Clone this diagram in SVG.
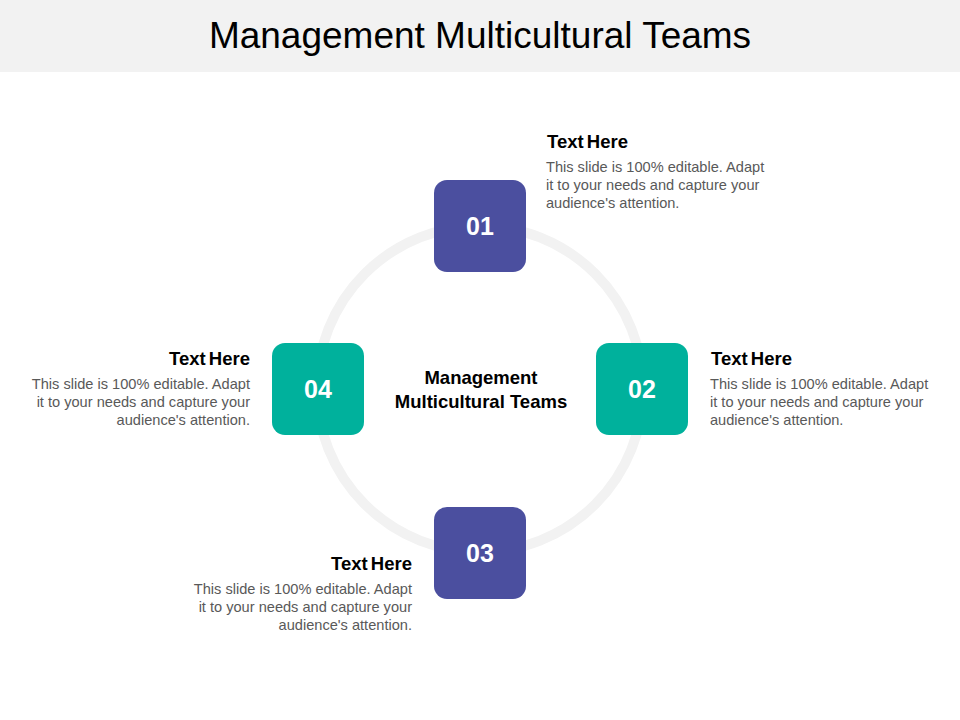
<svg xmlns="http://www.w3.org/2000/svg" width="960" height="720" viewBox="0 0 960 720">
<style>
.title{font-family:"Liberation Sans",Arial,sans-serif;font-size:37px;fill:#000;text-anchor:middle}
.num{font-family:"Liberation Sans",Arial,sans-serif;font-size:25px;font-weight:bold;fill:#fff;text-anchor:middle}
.head{font-family:"Liberation Sans",Arial,sans-serif;font-size:18.5px;font-weight:bold;fill:#000;word-spacing:-2px}
.body{font-family:"Liberation Sans",Arial,sans-serif;font-size:14.6px;fill:#595959}
.center{font-family:"Liberation Sans",Arial,sans-serif;font-size:18.5px;font-weight:bold;fill:#000;text-anchor:middle}
.purple{fill:#4b4f9f}
.teal{fill:#00b19c}
.r{text-anchor:end}
</style>
<rect x="0" y="0" width="960" height="720" fill="#fff"/>
<g id="title-bar">
<rect x="0" y="0" width="960" height="72" fill="#f2f2f2"/>
<text class="title" x="480" y="48">Management Multicultural Teams</text>
</g>
<g id="connectors">
<circle cx="480" cy="389" r="163" fill="none" stroke="#f2f2f2" stroke-width="10"/>
</g>
<g id="center">
<text class="center" x="481" y="384">Management</text>
<text class="center" x="481" y="408">Multicultural Teams</text>
</g>
<g id="node-01">
<rect class="purple" x="434" y="180" width="92" height="92" rx="13"/>
<text class="num" x="480" y="235">01</text>
<text class="head" x="547" y="148">Text Here</text>
<text class="body" x="546" y="172">This slide is 100% editable.  Adapt</text>
<text class="body" x="546" y="190">it to your needs and capture your</text>
<text class="body" x="546" y="208">audience's attention.</text>
</g>
<g id="node-02">
<rect class="teal" x="596" y="343" width="92" height="92" rx="13"/>
<text class="num" x="642" y="398">02</text>
<text class="head" x="711" y="365">Text Here</text>
<text class="body" x="710" y="389">This slide is 100% editable.  Adapt</text>
<text class="body" x="710" y="407">it to your needs and capture your</text>
<text class="body" x="710" y="425">audience's attention.</text>
</g>
<g id="node-03">
<rect class="purple" x="434" y="507" width="92" height="92" rx="13"/>
<text class="num" x="480" y="562">03</text>
<text class="head r" x="412" y="570">Text Here</text>
<text class="body r" x="412" y="594">This slide is 100% editable.  Adapt</text>
<text class="body r" x="412" y="612">it to your needs and capture your</text>
<text class="body r" x="412" y="630">audience's attention.</text>
</g>
<g id="node-04">
<rect class="teal" x="272" y="343" width="92" height="92" rx="13"/>
<text class="num" x="318" y="398">04</text>
<text class="head r" x="250" y="365">Text Here</text>
<text class="body r" x="250" y="389">This slide is 100% editable.  Adapt</text>
<text class="body r" x="250" y="407">it to your needs and capture your</text>
<text class="body r" x="250" y="425">audience's attention.</text>
</g>
</svg>
